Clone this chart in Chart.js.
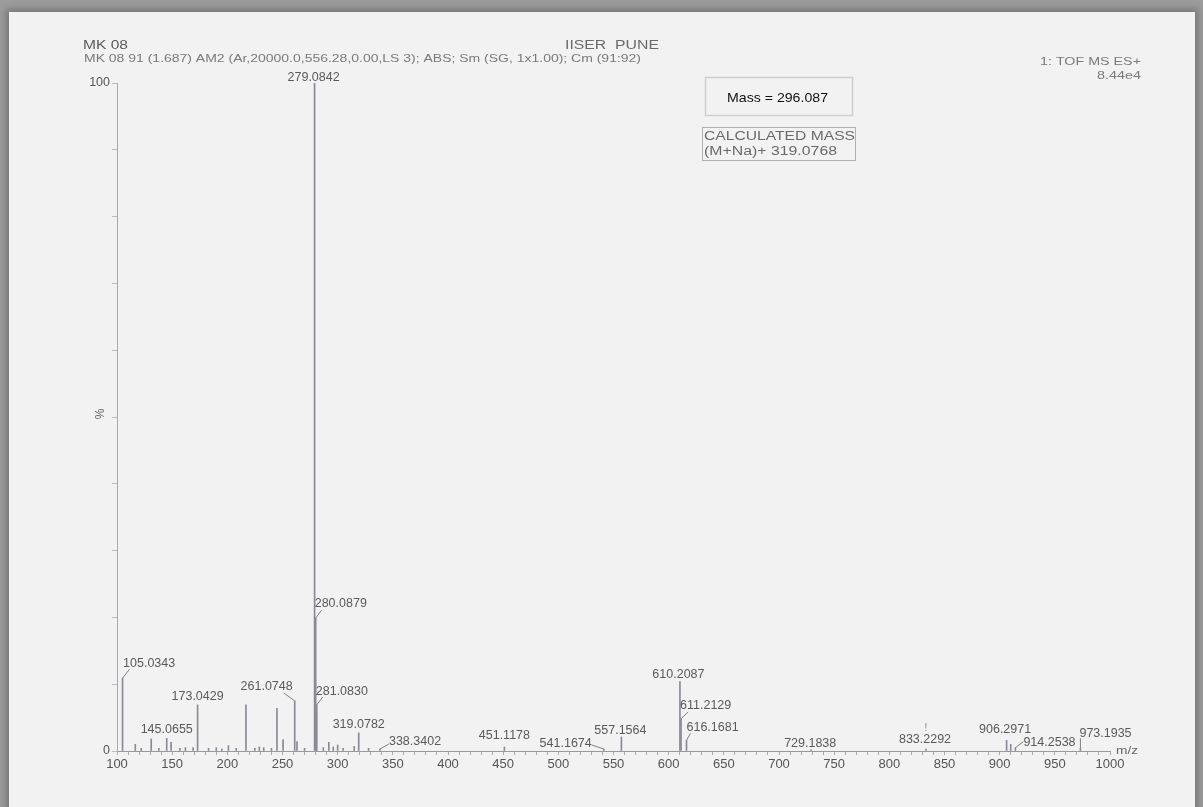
<!DOCTYPE html>
<html><head><meta charset="utf-8">
<script src="https://cdn.jsdelivr.net/npm/chart.js@4.4.0/dist/chart.umd.min.js"></script>
<style>
html,body{margin:0;padding:0;width:1203px;height:807px;overflow:hidden;background:#9c9c9c;}
#page{position:absolute;left:9px;top:12px;width:1186px;height:800px;background:#f2f2f2;box-shadow:0 0 7px 3px rgba(70,70,70,.45);}
#c{position:absolute;left:0;top:0;}
</style></head>
<body><div id="page"></div><canvas id="c" width="1203" height="807"></canvas>
<script>
// ---- data ----
const massValues = [105.0343,116.6,122,131.0,138,145.0655,149.0,157,162,169.0,173.0429,183,190.0,195,201.0,208,216.9,225,229.0,233.0,240,245.0,250.5,261.0748,263.1,270,279.0842,280.0879,281.0830,287,292.0,296,300.0,305,315.0,319.0782,328,338.3402,451.1178,541.1674,557.1564,610.2087,611.2129,616.1681,729.1838,833.2292,906.2971,910.0,914.2538,973.1935];
const intensities = [10.9,1.0,0.4,1.8,0.4,1.9,1.3,0.4,0.5,0.5,6.9,0.4,0.5,0.3,0.8,0.4,6.9,0.4,0.6,0.5,0.4,6.4,1.7,7.5,1.4,0.4,100,19.9,6.9,0.5,1.3,0.6,0.9,0.4,0.7,2.7,0.4,0.3,0.6,0.3,2.1,10.4,4.8,1.6,0.2,0.3,1.6,1.0,0.5,0.4];
const labelledPeaks = ['105.0343','145.0655','173.0429','261.0748','279.0842','280.0879','281.0830','319.0782','338.3402','451.1178','541.1674','557.1564','610.2087','611.2129','616.1681','729.1838','833.2292','906.2971','914.2538','973.1935'];
const xTickLabels = [100,150,200,250,300,350,400,450,500,550,600,650,700,750,800,850,900,950,1000];
const yTickLabels = [0,100];

// ---- label layout (offsets relative to the peak top, in px) ----
// [dx, dy, align, leaderX, leaderY] leader from peak top to (leaderX, leaderY)
const labelLayout = {
 '105.0343':[0.5,-11,'left',7,-9],
 '145.0655':[0,-5,'center'],
 '173.0429':[0,-4.5,'center'],
 '261.0748':[-2,-11,'right',-11,-8],
 '279.0842':[-1,-2,'center'],
 '280.0879':[-1,-11,'left',6,-8],
 '281.0830':[-1,-10,'left',6,-8],
 '319.0782':[0,-5,'center'],
 '338.3402':[9,-4,'left',9,-5],
 '451.1178':[0,-8,'center'],
 '541.1674':[-12,-2,'right',-12,-4],
 '557.1564':[-1,-3,'center'],
 '610.2087':[-1.5,-4,'center'],
 '611.2129':[-1,-10,'left',7,-7],
 '616.1681':[0,-9,'left',4,-7],
 '729.1838':[-1,-3,'center'],
 '833.2292':[-1,-6,'center'],
 '906.2971':[-1.5,-7,'center'],
 '914.2538':[8,-2,'left',8,-6],
 '973.1935':[-1,-11,'left',0,-10]
};

const FONT = '"Liberation Sans", Arial, sans-serif';
function txt(ctx, s, x, y, size, w, align, color, rot){
  ctx.save();
  ctx.font = size + 'px ' + FONT;
  ctx.fillStyle = color;
  ctx.textBaseline = 'alphabetic';
  ctx.textAlign = align || 'left';
  const m = ctx.measureText(s).width;
  const sx = w ? w / m : 1;
  ctx.translate(x, y);
  if (rot) ctx.rotate(rot);
  ctx.scale(sx, 1);
  ctx.fillText(s, 0, 0);
  ctx.restore();
}

const annotate = {
  id: 'annotate',
  afterDraw(chart){
    const ctx = chart.ctx;
    const meta = chart.getDatasetMeta(0);
    // headers
    txt(ctx,'MK 08',83,49,12.5,45,'left','#5a5a5a');
    txt(ctx,'MK 08 91 (1.687) AM2 (Ar,20000.0,556.28,0.00,LS 3); ABS; Sm (SG, 1x1.00); Cm (91:92)',84,61.5,11,557,'left','#7a7a7a');
    txt(ctx,'IISER  PUNE',565,49,12.5,94,'left','#6a6a6a');
    txt(ctx,'1: TOF MS ES+',1141,65,11,101,'right','#7a7a7a');
    txt(ctx,'8.44e4',1141,79,11,44,'right','#7a7a7a');
    // y title
    txt(ctx,'%',104,414,12,null,'center','#666',-Math.PI/2);
    // x unit
    txt(ctx,'m/z',1116,754,11.5,22,'left','#666');
    // boxes
    ctx.save();
    ctx.lineWidth = 1.5;
    ctx.strokeStyle = '#cfcfcf';
    ctx.strokeRect(705.5,77.5,147,38);
    ctx.lineWidth = 1;
    ctx.strokeStyle = '#b0b0b0';
    ctx.strokeRect(702.5,127.5,153,33);
    ctx.restore();
    txt(ctx,'Mass = 296.087',727,101.5,13.5,101,'left','#111');
    txt(ctx,'CALCULATED MASS',704,140,12.5,151,'left','#6a6a6a');
    txt(ctx,'(M+Na)+ 319.0768',704,155,12.5,133,'left','#6a6a6a');
    // peak labels
    ctx.save();
    ctx.strokeStyle = '#808080';
    ctx.lineWidth = 1;
    labelledPeaks.forEach(lbl=>{
      const idx = massValues.indexOf(parseFloat(lbl));
      if (idx < 0) return;
      const el = meta.data[idx];
      const lay = labelLayout[lbl];
      const px = el.x, py = el.y;
      txt(ctx,lbl,px+lay[0],py+lay[1],12.5,null,lay[2],'#5a5a5a');
      if (lay.length > 3){
        ctx.beginPath();
        ctx.moveTo(px, py);
        ctx.lineTo(px+lay[3], py+lay[4]);
        ctx.stroke();
      }
    });
    // small marker above 833
    const i833 = massValues.indexOf(833.2292);
    if (i833 >= 0) txt(ctx,'!',meta.data[i833].x,731,10,null,'center','#888');
    ctx.restore();
  }
};

new Chart(document.getElementById('c'), {
  type: 'bar',
  data: {
    datasets: [{
      data: massValues.map((m,i)=>({x:m, y:intensities[i]})),
      backgroundColor: '#8a8a96',
      borderWidth: 0,
      barThickness: 1,
      grouped: false
    }]
  },
  options: {
    responsive: false,
    devicePixelRatio: 1,
    animation: false,
    layout: { padding: { left: 87, right: 93, top: 83, bottom: 26 } },
    plugins: { legend: { display: false }, tooltip: { enabled: false } },
    scales: {
      x: {
        type: 'linear', min: 100, max: 1000, offset: false,
        afterFit(s){ s.height = 30; },
        border: { display: true, color: '#999', width: 1 },
        grid: { display: true, drawOnChartArea: false, offset: false, tickLength: 4, color: '#aaa' },
        ticks: {
          stepSize: 10, maxTicksLimit: 1000, autoSkip: false, maxRotation: 0, padding: 2,
          color: '#555', font: { family: FONT, size: 13 },
          callback: v => xTickLabels.includes(v) ? String(v) : ''
        }
      },
      y: {
        min: 0, max: 100,
        afterFit(s){ s.width = 30; },
        border: { display: true, color: '#aaa', width: 1 },
        grid: { display: true, drawOnChartArea: false, tickLength: 5, color: '#bbb' },
        ticks: {
          stepSize: 10, autoSkip: false, padding: 2,
          color: '#555', font: { family: FONT, size: 12.5 },
          callback: v => yTickLabels.includes(v) ? String(v) : ''
        }
      }
    }
  },
  plugins: [annotate]
});
</script>
</body></html>
